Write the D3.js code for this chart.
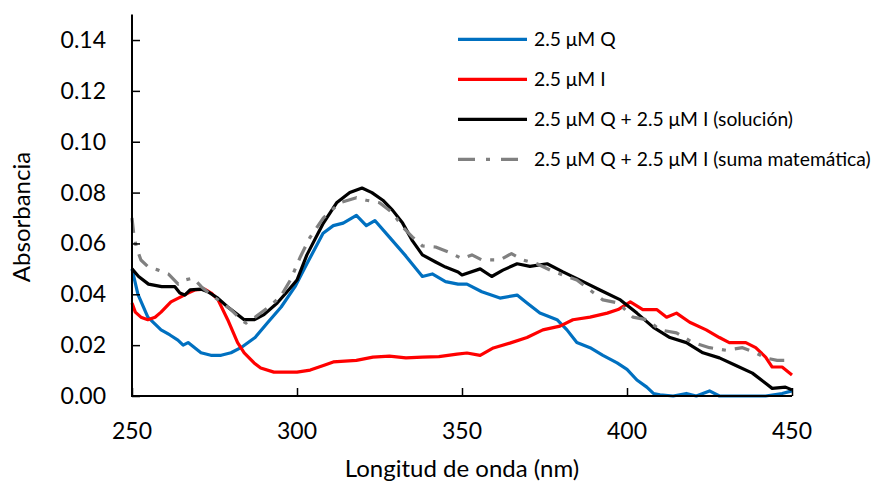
<!DOCTYPE html>
<html>
<head>
<meta charset="utf-8">
<script src="https://cdn.jsdelivr.net/npm/d3@7"></script>
<style>
  body { margin: 0; background: #fff; }
  svg text { font-family: Lato, "Open Sans", sans-serif; fill: #000; }
</style>
</head>
<body>
<div id="root"></div>
<script>
// series data (wavelength nm / absorbance)
const qNm  = [250,251.8,254.8,258.8,261.5,263.9,265.5,267,270.9,273.9,277,280,283,287.3,291.2,295.2,299.4,303,307.9,311,314,318,321,323.6,328,333,338,341,345,348.8,351.5,356,361.5,366.7,369.7,373.6,378.8,381.8,384.8,388.8,392.7,397,400,403,406,408,410,414,418,421,425,428,435,442,447,450];
const qAbs = [0.050,0.040,0.031,0.026,0.024,0.022,0.020,0.021,0.017,0.016,0.016,0.017,0.019,0.023,0.029,0.035,0.043,0.052,0.064,0.067,0.068,0.071,0.067,0.069,0.0625,0.055,0.047,0.048,0.045,0.044,0.044,0.041,0.0385,0.0397,0.0366,0.0326,0.030,0.026,0.021,0.019,0.016,0.013,0.0105,0.0063,0.0035,0.001,0.0005,0.0,0.001,0.0,0.002,0.0,0.0,0.0,0.001,0.002];

const iNm  = [250,251,252.7,254.8,257,258.8,261.8,264.8,267,269,272,274,276,279,282,284,287,289,293,297,300,304,308,311,318,323,328,333,338,343,348.5,351.5,355.5,359.5,364.5,369.7,374.5,379.7,383.6,388.8,394,397.3,401,404.8,409,412,415,419,424,428,431,436,439,442,444,447,450];
const iAbs = [0.0366,0.033,0.031,0.030,0.031,0.033,0.037,0.039,0.0405,0.0417,0.042,0.0405,0.038,0.030,0.021,0.017,0.013,0.011,0.0094,0.0094,0.0094,0.0102,0.012,0.0134,0.014,0.0153,0.0157,0.015,0.0153,0.0155,0.0165,0.0169,0.016,0.0189,0.0208,0.023,0.026,0.0275,0.030,0.031,0.0326,0.034,0.037,0.034,0.034,0.031,0.0326,0.029,0.026,0.023,0.021,0.021,0.019,0.0153,0.0114,0.0114,0.0083];

const sNm  = [250,252,255,259,263,264.5,266,267.6,271,273,276,279,282,284,287,290,294,297,300,303,308,312,316,319.7,322.7,326,329,332,335,338,342,345,348.8,350,355.5,359,362.4,366.7,370.6,375.8,380.6,386.7,391.8,398,403,408,413,418,423,428,433,438,442,444,448,450];
const sAbs = [0.050,0.047,0.044,0.043,0.043,0.0405,0.0397,0.0417,0.042,0.041,0.0385,0.035,0.032,0.030,0.030,0.032,0.0366,0.041,0.0456,0.0555,0.068,0.076,0.080,0.0818,0.080,0.077,0.073,0.068,0.061,0.0555,0.0527,0.0507,0.0488,0.0476,0.050,0.047,0.0495,0.052,0.051,0.052,0.0488,0.045,0.0417,0.0378,0.0326,0.027,0.023,0.021,0.017,0.015,0.012,0.009,0.005,0.003,0.0035,0.0024];

const mNm  = [250,250.5,251.3,252.7,255,258,261,264,266,268.5,271,274,277,280,283,284.5,287,291,295,298,301,304,308,313,318,321,325,329,332,335,338,342,346,350,353,356,361.5,365,368.5,372.7,376.7,380.6,384.8,388.8,392.7,397.3,401.8,406,410,415,420,425,430,435,439,442,445.5,450];
const mAbs = [0.070,0.064,0.0586,0.0535,0.0507,0.0495,0.048,0.044,0.0456,0.0464,0.043,0.0397,0.037,0.034,0.030,0.0287,0.0307,0.0346,0.039,0.0456,0.0547,0.0625,0.070,0.076,0.078,0.077,0.076,0.072,0.0665,0.0625,0.059,0.0586,0.0566,0.054,0.0555,0.0535,0.0535,0.056,0.0535,0.052,0.0495,0.0476,0.0456,0.0417,0.0378,0.0366,0.031,0.030,0.026,0.0248,0.021,0.019,0.018,0.019,0.017,0.015,0.014,0.014];

const seriesNames = ["2.5 μM Q", "2.5 μM I", "2.5 μM Q + 2.5 μM I (solución)", "2.5 μM Q + 2.5 μM I (suma matemática)"];
const xTicks = [250, 300, 350, 400, 450];
const yTicks = [0, 0.02, 0.04, 0.06, 0.08, 0.10, 0.12, 0.14];

const W = 881, H = 483;
const plotL = 132, plotR = 792, plotT = 14.6, plotB = 396;

const svg = d3.select('#root').append('svg')
  .attr('width', W).attr('height', H);

const x = d3.scaleLinear().domain([250, 450]).range([plotL, plotR]);
const y = d3.scaleLinear().domain([0, 0.15]).range([plotB, plotT]);

const series = [
  {nm: qNm, abs: qAbs, color: '#0070c0', dash: null},
  {nm: iNm, abs: iAbs, color: '#ff0000', dash: null},
  {nm: sNm, abs: sAbs, color: '#000000', dash: null},
  {nm: mNm, abs: mAbs, color: '#808080', dash: '15,9,4,9'}
];

const line = d3.line().x(d => x(d[0])).y(d => y(d[1]));

// lines
series.forEach(s => {
  svg.append('path')
    .datum(d3.zip(s.nm, s.abs))
    .attr('fill', 'none')
    .attr('stroke', s.color)
    .attr('stroke-width', 3.2)
    .attr('stroke-linejoin', 'round')
    .attr('stroke-dasharray', s.dash)
    .attr('d', line);
});

// axes, ticks pointing inward
const yAxis = svg.append('g')
  .attr('transform', `translate(${plotL},0)`)
  .call(d3.axisRight(y).tickValues(yTicks).tickSize(8).tickFormat(''));
yAxis.select('.domain').remove();
yAxis.selectAll('line').attr('stroke', '#000').attr('stroke-width', 1.5);

const xAxis = svg.append('g')
  .attr('transform', `translate(0,${plotB})`)
  .call(d3.axisTop(x).tickValues(xTicks).tickSize(8).tickFormat(''));
xAxis.select('.domain').remove();
xAxis.selectAll('line').attr('stroke', '#000').attr('stroke-width', 1.5);

svg.append('line')
  .attr('x1', plotL).attr('x2', plotL).attr('y1', plotT).attr('y2', plotB)
  .attr('stroke', '#000').attr('stroke-width', 2);
svg.append('line')
  .attr('x1', plotL - 1).attr('x2', plotR).attr('y1', plotB).attr('y2', plotB)
  .attr('stroke', '#000').attr('stroke-width', 2);

svg.selectAll('.ylab').data(yTicks).enter().append('text')
  .attr('x', 106).attr('y', d => y(d) + 8)
  .attr('text-anchor', 'end')
  .style('font-size', '23px')
  .text(d => d.toFixed(2));

svg.selectAll('.xlab').data(xTicks).enter().append('text')
  .attr('x', d => x(d)).attr('y', 439)
  .attr('text-anchor', 'middle')
  .style('font-size', '23px')
  .text(d => d);

svg.append('text')
  .attr('x', 462).attr('y', 477)
  .attr('text-anchor', 'middle')
  .style('font-size', '24px')
  .text('Longitud de onda (nm)');

svg.append('text')
  .attr('transform', 'translate(30,217) rotate(-90)')
  .attr('text-anchor', 'middle')
  .style('font-size', '24px')
  .text('Absorbancia');

// legend
const legY = [39.3, 79.3, 119.3, 159.3];
series.forEach((s, i) => {
  svg.append('line')
    .attr('x1', 458).attr('x2', 527)
    .attr('y1', legY[i]).attr('y2', legY[i])
    .attr('stroke', s.color).attr('stroke-width', 3.2)
    .attr('stroke-dasharray', s.dash ? '17,11,4,11' : null);
  svg.append('text')
    .attr('x', 534).attr('y', legY[i] + 7)
    .style('font-size', '19.3px')
    .text(seriesNames[i]);
});
</script>
</body>
</html>
